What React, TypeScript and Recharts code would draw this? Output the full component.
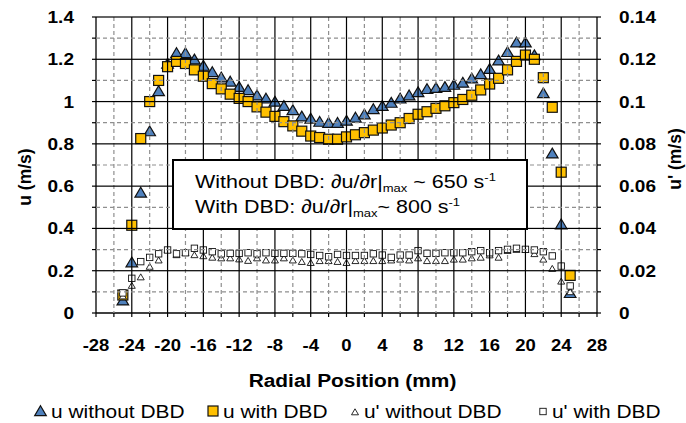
import React from "react";
import { ScatterChart, Scatter, XAxis, YAxis, Legend } from "recharts";

const positions = [
  -25, -24, -23, -22, -21, -20, -19, -18, -17, -16, -15, -14, -13, -12, -11, -10, -9, -8, -7, -6, -5, -4, -3, -2, -1,
  0, 1, 2, 3, 4, 5, 6, 7, 8, 9, 10, 11, 12, 13, 14, 15, 16, 17, 18, 19, 20, 21, 22, 23, 24, 25,
];

// u (m/s), left axis
const uWithout = [
  0.06, 0.24, 0.57, 0.86, 1.05, 1.18, 1.23, 1.23, 1.2, 1.17, 1.14, 1.115, 1.095, 1.07, 1.055, 1.03, 1.015, 1.0, 0.98,
  0.96, 0.93, 0.92, 0.905, 0.9, 0.9, 0.91, 0.925, 0.94, 0.965, 0.98, 0.995, 1.015, 1.03, 1.045, 1.06, 1.065, 1.07,
  1.08, 1.09, 1.11, 1.13, 1.155, 1.195, 1.235, 1.28, 1.28, 1.22, 1.04, 0.755, 0.42, 0.095,
];
const uWith = [
  0.085, 0.415, 0.825, 1.0, 1.1, 1.165, 1.19, 1.18, 1.15, 1.12, 1.085, 1.06, 1.035, 1.015, 1.0, 0.975, 0.95, 0.93,
  0.905, 0.885, 0.86, 0.837, 0.83, 0.822, 0.822, 0.833, 0.843, 0.853, 0.865, 0.875, 0.889, 0.9, 0.92, 0.94, 0.952,
  0.968, 0.98, 0.995, 1.01, 1.03, 1.055, 1.083, 1.11, 1.15, 1.19, 1.22, 1.2, 1.113, 0.973, 0.666, 0.178,
];

// u' (m/s), right axis
const upWithout = [
  0.008, 0.013, 0.017, 0.022, 0.025, 0.03, 0.0275, 0.0285, 0.0275, 0.027, 0.0263, 0.026, 0.026, 0.0255, 0.0248,
  0.026, 0.025, 0.025, 0.026, 0.025, 0.0243, 0.0238, 0.0247, 0.0247, 0.0243, 0.0238, 0.0247, 0.0247, 0.0247, 0.0247,
  0.025, 0.0254, 0.025, 0.026, 0.0247, 0.0247, 0.0247, 0.0254, 0.0254, 0.026, 0.0263, 0.0274, 0.0263, 0.0295, 0.03,
  0.03, 0.028, 0.0254, 0.021, 0.015, 0.01,
];
const upWith = [
  0.0095, 0.0164, 0.0243, 0.0263, 0.028, 0.0298, 0.028, 0.0285, 0.0306, 0.0298, 0.029, 0.028, 0.0282, 0.0282, 0.0285,
  0.028, 0.0285, 0.0282, 0.0282, 0.0282, 0.028, 0.0277, 0.0272, 0.0266, 0.0277, 0.0272, 0.0272, 0.0272, 0.028, 0.0274,
  0.0263, 0.0274, 0.0274, 0.0295, 0.0282, 0.0282, 0.0285, 0.0285, 0.0285, 0.029, 0.0295, 0.0285, 0.0295, 0.0301,
  0.0306, 0.0301, 0.0298, 0.029, 0.027, 0.0222, 0.0128,
];

const xTicks = [-28, -26, -24, -22, -20, -18, -16, -14, -12, -10, -8, -6, -4, -2, 0, 2, 4, 6, 8, 10, 12, 14, 16, 18, 20, 22, 24, 26, 28];
const uTicks = [0, 0.1, 0.2, 0.3, 0.4, 0.5, 0.6, 0.7, 0.8, 0.9, 1, 1.1, 1.2, 1.3, 1.4];
const upTicks = [0, 0.01, 0.02, 0.03, 0.04, 0.05, 0.06, 0.07, 0.08, 0.09, 0.1, 0.11, 0.12, 0.13, 0.14];

const toPoints = (ys: number[]) => positions.map((x, i) => ({ x, y: ys[i] }));

// chart layout
const W = 686;
const H = 423;
const TOP = 17;
const LEFT_W = 96;
const RIGHT_W = 89;
const XAXIS_H = 82;
const LEGEND_H = 28;
const PLOT_L = LEFT_W;
const PLOT_R = W - RIGHT_W;
const PLOT_T = TOP;
const PLOT_B = H - LEGEND_H - XAXIS_H;

const FONT = "'Liberation Sans', Arial, sans-serif";
const BLUE = "#4F81BD";
const GOLD = "#FFC000";

function SText({ x, y, anchor = "start", size, bold = false, sx = 1.12, children }: any) {
  return (
    <text
      transform={`translate(${x},${y}) scale(${sx},1)`}
      textAnchor={anchor}
      fontFamily={FONT}
      fontSize={size}
      fontWeight={bold ? 700 : 400}
      fill="#000"
    >
      {children}
    </text>
  );
}

const fmt = (v: number) => String(parseFloat(v.toFixed(2)));

// solid gridline as a thin filled rect, dashed gridline as a path
function VGrid({ x, major }: any) {
  return major ? (
    <rect x={x - 0.6} y={PLOT_T} width={1.2} height={PLOT_B - PLOT_T} fill="#000" />
  ) : (
    <path d={`M${x},${PLOT_T}V${PLOT_B}`} stroke="#8f8f8f" strokeWidth={1.2} strokeDasharray="4 3" fill="none" />
  );
}
function HGrid({ y, major }: any) {
  return major ? (
    <rect x={PLOT_L} y={y - 0.6} width={PLOT_R - PLOT_L} height={1.2} fill="#000" />
  ) : (
    <path d={`M${PLOT_L},${y}H${PLOT_R}`} stroke="#8f8f8f" strokeWidth={1.2} strokeDasharray="4 3" fill="none" />
  );
}

// x ticks: label every 4 mm, plus the vertical gridline through the tick
function XTick({ x, y, payload }: any) {
  const v = payload.value;
  const major = Math.round(v) % 4 === 0;
  const edge = Math.abs(v) >= 28;
  return (
    <g>
      {!edge && <VGrid x={x} major={major} />}
      {major && <SText x={x} y={y + 32} anchor="middle" size={16.5} bold>{fmt(v)}</SText>}
    </g>
  );
}

// left ticks: label every 0.2, plus the horizontal gridline
function LeftTick({ x, y, payload }: any) {
  const v = payload.value;
  const major = Math.round(v * 10) % 2 === 0;
  return (
    <g>
      {v > 0 && <HGrid y={y} major={major} />}
      {major && <SText x={x - 16} y={y + 6} anchor="end" size={17} bold>{fmt(v)}</SText>}
    </g>
  );
}

function RightTick({ x, y, payload }: any) {
  if (Math.round(payload.value * 100) % 2 !== 0) return <g />;
  return <SText x={x + 16} y={y + 6} anchor="start" size={17} bold>{fmt(payload.value)}</SText>;
}

const BigTriangle = ({ cx, cy }: any) => (
  <polygon
    points={`${cx},${cy - 5.2} ${cx + 5.8},${cy + 4.6} ${cx - 5.8},${cy + 4.6}`}
    fill={BLUE}
    stroke="#111"
    strokeWidth={1.2}
  />
);
const BigSquare = ({ cx, cy }: any) => (
  <rect x={cx - 5} y={cy - 5} width={10} height={10} fill={GOLD} stroke="#111" strokeWidth={1.2} />
);
const SmallTriangle = ({ cx, cy }: any) => (
  <polygon
    points={`${cx},${cy - 3.2} ${cx + 3.5},${cy + 2.8} ${cx - 3.5},${cy + 2.8}`}
    fill="#fff"
    stroke="#111"
    strokeWidth={0.9}
  />
);
const SmallSquare = ({ cx, cy }: any) => (
  <rect x={cx - 3.2} y={cy - 3.2} width={6.4} height={6.4} fill="#fff" stroke="#111" strokeWidth={0.9} />
);

function LegendRow() {
  return (
    <svg width={W} height={LEGEND_H} style={{ display: "block" }}>
      <BigTriangle cx={40.5} cy={16} />
      <SText x={51} y={23} size={19} sx={1.1}>u without DBD</SText>
      <BigSquare cx={213} cy={16} />
      <SText x={223} y={23} size={19} sx={1.1}>u with DBD</SText>
      <SmallTriangle cx={355} cy={17} />
      <SText x={364} y={23} size={19} sx={1.1}>u' without DBD</SText>
      <SmallSquare cx={543} cy={16.5} />
      <SText x={552} y={23} size={19} sx={1.1}>u' with DBD</SText>
    </svg>
  );
}

// text box laid over the plot
const BOX = { x: 173, y: 160, w: 354, h: 69 };
function AnnotationBox() {
  return (
    <svg
      width={BOX.w}
      height={BOX.h}
      style={{ position: "absolute", left: BOX.x, top: BOX.y, zIndex: 2, overflow: "visible" }}
    >
      <rect x={0} y={0} width={BOX.w} height={BOX.h} fill="#fff" stroke="#000" strokeWidth={2} />
      <text transform="translate(22,28) scale(1.13,1)" fontFamily={FONT} fontSize={19} fill="#000">
        Without DBD: ∂u/∂r|<tspan fontSize={11.5} dy={4}>max</tspan>
        <tspan dy={-4}> ~ 650 s</tspan>
        <tspan fontSize={11.5} dy={-7}>-1</tspan>
      </text>
      <text transform="translate(22,53) scale(1.13,1)" fontFamily={FONT} fontSize={19} fill="#000">
        With DBD: ∂u/∂r|<tspan fontSize={11.5} dy={4}>max</tspan>
        <tspan dy={-4}>~ 800 s</tspan>
        <tspan fontSize={11.5} dy={-7}>-1</tspan>
      </text>
    </svg>
  );
}

export default function App() {
  return (
    <div style={{ position: "absolute", left: 0, top: 0, width: W, height: H, background: "#fff" }}>
      <ScatterChart width={W} height={H} margin={{ top: TOP, right: 0, bottom: 0, left: 0 }}>
        <XAxis
          type="number"
          dataKey="x"
          domain={[-28, 28]}
          ticks={xTicks}
          interval={0}
          height={XAXIS_H}
          tickSize={4}
          tick={<XTick />}
          axisLine={{ stroke: "#000", strokeWidth: 1.3 }}
          tickLine={{ stroke: "#000", strokeWidth: 1.2 }}
          label={{
            content: (p: any) => (
              <SText x={p.viewBox.x + p.viewBox.width / 2 + 6} y={p.viewBox.y + 74} anchor="middle" size={18.5} bold sx={1.13}>
                Radial Position (mm)
              </SText>
            ),
          }}
        />
        <YAxis
          yAxisId="left"
          orientation="left"
          type="number"
          dataKey="y"
          domain={[0, 1.4]}
          ticks={uTicks}
          interval={0}
          width={LEFT_W}
          tickSize={4}
          tick={<LeftTick />}
          axisLine={{ stroke: "#000", strokeWidth: 1.3 }}
          tickLine={{ stroke: "#000", strokeWidth: 1.2 }}
          label={{
            content: (p: any) => (
              <text
                transform={`translate(${p.viewBox.x + 25},${p.viewBox.y + 160}) rotate(-90)`}
                textAnchor="middle"
                dominantBaseline="central"
                fontFamily={FONT}
                fontSize={17.5}
                fontWeight={700}
              >
                u (m/s)
              </text>
            ),
          }}
        />
        <YAxis
          yAxisId="right"
          orientation="right"
          type="number"
          dataKey="y"
          domain={[0, 0.14]}
          ticks={upTicks}
          interval={0}
          width={RIGHT_W}
          tickSize={4}
          tick={<RightTick />}
          axisLine={{ stroke: "#000", strokeWidth: 1.3 }}
          tickLine={{ stroke: "#000", strokeWidth: 1.2 }}
          label={{
            content: (p: any) => (
              <text
                transform={`translate(${p.viewBox.x + 78},${p.viewBox.y + 142}) rotate(-90)`}
                textAnchor="middle"
                dominantBaseline="central"
                fontFamily={FONT}
                fontSize={17.5}
                fontWeight={700}
              >
                u' (m/s)
              </text>
            ),
          }}
        />

        <Scatter name="u without DBD" yAxisId="left" data={toPoints(uWithout)} shape={<BigTriangle />} isAnimationActive={false} />
        <Scatter name="u with DBD" yAxisId="left" data={toPoints(uWith)} shape={<BigSquare />} isAnimationActive={false} />
        <Scatter name="u' without DBD" yAxisId="right" data={toPoints(upWithout)} shape={<SmallTriangle />} isAnimationActive={false} />
        <Scatter name="u' with DBD" yAxisId="right" data={toPoints(upWith)} shape={<SmallSquare />} isAnimationActive={false} />

        <Legend
          verticalAlign="bottom"
          height={LEGEND_H}
          content={() => <LegendRow />}
          wrapperStyle={{ left: 0, bottom: 0, width: W, height: LEGEND_H }}
        />
      </ScatterChart>
      <AnnotationBox />
    </div>
  );
}
